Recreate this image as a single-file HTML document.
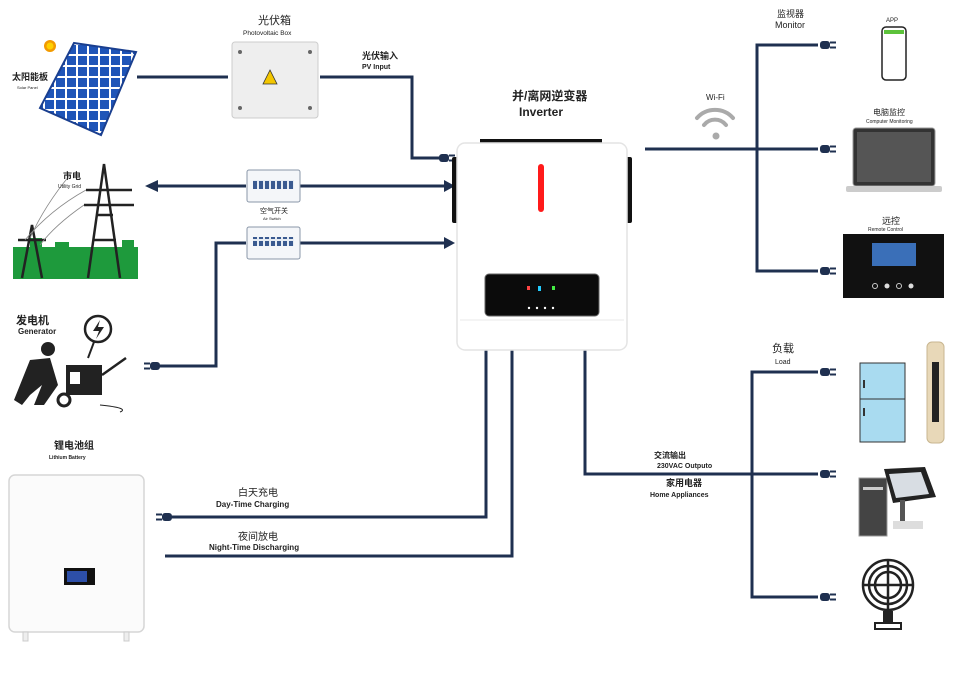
<!DOCTYPE html>
<html><head><meta charset="utf-8"><style>
html,body{margin:0;padding:0;background:#fff;}
svg{display:block;}
text{font-family:"Liberation Sans","Noto Sans CJK SC",sans-serif;fill:#222;}
</style></head><body>
<svg width="960" height="683" viewBox="0 0 960 683" xmlns="http://www.w3.org/2000/svg">
<defs>
<g id="plugR"><rect x="-10" y="-4" width="10" height="8" rx="3" fill="#1f3050"/><rect x="0" y="-3.5" width="6" height="2" fill="#1f3050"/><rect x="0" y="1.5" width="6" height="2" fill="#1f3050"/></g>
<pattern id="cells" width="11" height="11" patternUnits="userSpaceOnUse"><rect width="11" height="11" fill="#fff"/><rect x="1" y="1" width="9" height="9" fill="#1f55b8"/></pattern>
<pattern id="brk" width="6" height="10" patternUnits="userSpaceOnUse"><rect width="6" height="10" fill="#e6ecf3"/><rect x="1" y="1" width="4" height="8" fill="#3a5a90"/></pattern>
</defs>

<!-- connector lines -->
<g stroke="#1f3050" stroke-width="3" fill="none">
<line x1="137" y1="77" x2="228" y2="77"/>
<polyline points="320,77 412,77 412,158 440,158"/>
<line x1="155" y1="186" x2="246" y2="186"/>
<line x1="300" y1="186" x2="445" y2="186"/>
<polyline points="300,243 445,243"/>
<polyline points="246,243 216,243 216,366 160,366"/>
<polyline points="486,350 486,517 172,517"/>
<polyline points="512,350 512,556 165,556"/>
<polyline points="585,350 585,474 818,474"/>
<polyline points="818,372 752,372 752,597 818,597"/>
<line x1="645" y1="149" x2="818" y2="149"/>
<polyline points="818,45 757,45 757,271 818,271"/>
</g>
<polygon points="145,186 158,180 158,192" fill="#1f3050"/>
<polygon points="455,186 444,180 444,192" fill="#1f3050"/>
<polygon points="455,243 444,237 444,249" fill="#1f3050"/>
<use href="#plugR" x="449" y="158"/>
<g transform="translate(150,366) scale(-1,1)"><use href="#plugR"/></g>
<g transform="translate(162,517) scale(-1,1)"><use href="#plugR"/></g>
<use href="#plugR" x="830" y="45"/><use href="#plugR" x="830" y="149"/><use href="#plugR" x="830" y="271"/>
<use href="#plugR" x="830" y="372"/><use href="#plugR" x="830" y="474"/><use href="#plugR" x="830" y="597"/>

<!-- solar panel -->
<circle cx="50" cy="46" r="6" fill="#f29a00"/><circle cx="50" cy="46" r="3.5" fill="#ffd000"/>
<polygon points="74,43 136,52 101,135 40,108" fill="url(#cells)" stroke="#1a3f8f" stroke-width="2"/>
<text x="12" y="80" font-size="9" font-weight="bold">太阳能板</text>
<text x="17" y="89" font-size="4">Solar Panel</text>

<!-- PV box -->
<text x="258" y="24" font-size="11">光伏箱</text>
<text x="243" y="35" font-size="6.5" fill="#444">Photovoltaic Box</text>
<rect x="232" y="42" width="86" height="76" rx="3" fill="#eeeeee" stroke="#ccc"/>
<polygon points="270,70 263,84 277,84" fill="#f3c600" stroke="#333" stroke-width="0.8"/>
<circle cx="240" cy="52" r="2" fill="#666"/><circle cx="310" cy="52" r="2" fill="#666"/><circle cx="240" cy="108" r="2" fill="#666"/><circle cx="310" cy="108" r="2" fill="#666"/>
<text x="362" y="59" font-size="9" font-weight="bold">光伏输入</text>
<text x="362" y="69" font-size="7" font-weight="bold">PV Input</text>

<!-- utility grid -->
<rect x="13" y="247" width="125" height="32" fill="#1e9a3c"/>
<rect x="30" y="238" width="12" height="12" fill="#1e9a3c"/><rect x="55" y="242" width="14" height="8" fill="#1e9a3c"/><rect x="122" y="240" width="12" height="10" fill="#1e9a3c"/>
<g stroke="#222" stroke-width="2.5" fill="none">
<polyline points="88,278 104,164 120,278"/><line x1="93" y1="240" x2="116" y2="240"/><line x1="96" y1="215" x2="113" y2="215"/>
<line x1="86" y1="190" x2="132" y2="190"/><line x1="84" y1="205" x2="134" y2="205"/>
<polyline points="22,278 32,225 42,278"/><line x1="18" y1="240" x2="46" y2="240"/>
</g>
<g stroke="#888" stroke-width="0.8" fill="none"><path d="M86,190 Q50,210 25,240"/><path d="M84,205 Q55,225 40,245"/><path d="M70,175 Q45,205 30,238"/></g>
<text x="63" y="179" font-size="9" font-weight="bold">市电</text>
<text x="58" y="188" font-size="5" fill="#666">Utility Grid</text>

<!-- air switches -->
<rect x="247" y="170" width="53" height="32" rx="2" fill="#f4f6f9" stroke="#8a97a8"/>
<rect x="253" y="180" width="41" height="9" fill="url(#brk)"/>
<rect x="247" y="227" width="53" height="32" rx="2" fill="#f4f6f9" stroke="#8a97a8"/>
<rect x="253" y="237" width="41" height="9" fill="url(#brk)"/>
<text x="260" y="213" font-size="7">空气开关</text>
<text x="263" y="220" font-size="4" fill="#555">Air Switch</text>

<!-- generator -->
<text x="16" y="324" font-size="11" font-weight="bold">发电机</text>
<text x="18" y="334" font-size="8" font-weight="bold">Generator</text>
<circle cx="98" cy="329" r="13" fill="#fff" stroke="#222" stroke-width="2.5"/>
<polygon points="100,320 93,331 99,331 96,339 104,327 98,327" fill="#222"/>
<line x1="94" y1="342" x2="88" y2="358" stroke="#222" stroke-width="2"/>
<circle cx="48" cy="349" r="7" fill="#222"/>
<path d="M30,360 L50,358 L58,385 L44,405 L34,405 L42,385 L30,395 L22,405 L14,400 Z" fill="#222"/>
<rect x="66" y="365" width="36" height="30" fill="#222"/><rect x="70" y="372" width="10" height="12" fill="#fff"/>
<circle cx="64" cy="400" r="6" fill="#fff" stroke="#222" stroke-width="3"/>
<line x1="102" y1="375" x2="126" y2="358" stroke="#222" stroke-width="2.5"/>
<path d="M100,405 Q130,408 120,412" stroke="#222" fill="none"/>

<!-- battery -->
<text x="54" y="449" font-size="10" font-weight="bold">锂电池组</text>
<text x="49" y="459" font-size="5" font-weight="bold" fill="#333">Lithium Battery</text>
<rect x="9" y="475" width="135" height="157" rx="6" fill="#fbfbfb" stroke="#d6d6d6" stroke-width="1.5"/>
<rect x="64" y="568" width="31" height="17" fill="#111"/><rect x="67" y="571" width="20" height="11" fill="#2d4fa8"/>
<rect x="23" y="632" width="5" height="9" fill="#eee" stroke="#ccc"/><rect x="124" y="632" width="5" height="9" fill="#eee" stroke="#ccc"/>
<text x="238" y="496" font-size="10">白天充电</text>
<text x="216" y="507" font-size="8" font-weight="bold">Day-Time Charging</text>
<text x="238" y="540" font-size="10">夜间放电</text>
<text x="209" y="550" font-size="8" font-weight="bold">Night-Time Discharging</text>

<!-- inverter -->
<text x="512" y="100" font-size="12" font-weight="bold">并/离网逆变器</text>
<text x="519" y="116" font-size="12" font-weight="bold" fill="#333">Inverter</text>
<rect x="480" y="139" width="122" height="7" fill="#111"/>
<rect x="452" y="157" width="8" height="66" rx="2" fill="#111"/>
<rect x="624" y="157" width="8" height="66" rx="2" fill="#111"/>
<rect x="457" y="143" width="170" height="207" rx="8" fill="#fff" stroke="#e4e4e4" stroke-width="1.5"/>
<rect x="538" y="164" width="6" height="48" rx="3" fill="#ff1a1a"/>
<rect x="485" y="274" width="114" height="42" rx="4" fill="#0b0b0b" stroke="#666"/>
<rect x="538" y="286" width="3" height="5" fill="#2cf"/><rect x="527" y="286" width="3" height="4" fill="#f44"/><rect x="552" y="286" width="3" height="4" fill="#4e4"/>
<circle cx="529" cy="308" r="1.2" fill="#fff"/><circle cx="537" cy="308" r="1.2" fill="#fff"/><circle cx="545" cy="308" r="1.2" fill="#fff"/><circle cx="553" cy="308" r="1.2" fill="#fff"/>
<line x1="460" y1="320" x2="624" y2="320" stroke="#e8e8e8"/>

<!-- WiFi -->
<text x="706" y="100" font-size="8" fill="#bbb">Wi-Fi</text>
<g stroke="#aaa" stroke-width="4" fill="none" stroke-linecap="round">
<path d="M697,118 A24,24 0 0 1 733,118"/><path d="M704,125 A14,14 0 0 1 726,125"/></g>
<circle cx="716" cy="136" r="3.5" fill="#aaa"/>

<!-- monitor section -->
<text x="777" y="17" font-size="9">监视器</text>
<text x="775" y="28" font-size="9">Monitor</text>
<text x="886" y="22" font-size="6">APP</text>
<rect x="882" y="27" width="24" height="53" rx="4" fill="#fff" stroke="#222" stroke-width="1.5"/>
<rect x="884" y="30" width="20" height="4" fill="#5cc23a"/>
<text x="873" y="115" font-size="8">电脑监控</text>
<text x="866" y="123" font-size="5">Computer Monitoring</text>
<rect x="853" y="128" width="82" height="58" rx="3" fill="#333" stroke="#999"/>
<rect x="857" y="132" width="74" height="50" fill="#555"/>
<rect x="846" y="186" width="96" height="6" rx="2" fill="#ccc"/>
<text x="882" y="224" font-size="9">远控</text>
<text x="868" y="231" font-size="5">Remote Control</text>
<rect x="843" y="234" width="101" height="64" fill="#111"/>
<rect x="872" y="243" width="44" height="23" fill="#3a6fb8"/>
<circle cx="875" cy="286" r="2.5" fill="none" stroke="#ccc"/><circle cx="887" cy="286" r="2.5" fill="#ddd"/><circle cx="899" cy="286" r="2.5" fill="none" stroke="#ccc"/><circle cx="911" cy="286" r="2.5" fill="#ddd"/>

<!-- load -->
<text x="772" y="352" font-size="11">负载</text>
<text x="775" y="364" font-size="7">Load</text>
<rect x="860" y="363" width="45" height="79" fill="#a9dbf0" stroke="#333" stroke-width="1"/>
<line x1="860" y1="399" x2="905" y2="399" stroke="#333"/>
<rect x="863" y="380" width="2" height="8" fill="#333"/><rect x="863" y="408" width="2" height="8" fill="#333"/>
<rect x="927" y="342" width="17" height="101" rx="5" fill="#e8d8b8" stroke="#c8b690"/>
<rect x="932" y="362" width="7" height="60" fill="#222"/>
<text x="654" y="458" font-size="8" font-weight="bold">交流输出</text>
<text x="657" y="468" font-size="7" font-weight="bold">230VAC Outputo</text>
<text x="666" y="486" font-size="9" font-weight="bold">家用电器</text>
<text x="650" y="497" font-size="7" font-weight="bold">Home Appliances</text>
<rect x="859" y="478" width="28" height="58" fill="#444" stroke="#999"/>
<rect x="863" y="487" width="20" height="3" fill="#ccc"/>
<polygon points="884,469 925,467 936,497 893,503" fill="#222"/>
<polygon points="889,474 921,472 929,494 896,498" fill="#d8dde3"/>
<rect x="900" y="500" width="5" height="22" fill="#555"/>
<rect x="893" y="521" width="30" height="8" fill="#ddd"/>
<g stroke="#222" stroke-width="2.5" fill="none">
<circle cx="888" cy="585" r="25"/><circle cx="888" cy="585" r="13"/><circle cx="888" cy="585" r="19"/>
<line x1="888" y1="560" x2="888" y2="610"/><line x1="863" y1="585" x2="913" y2="585"/></g>
<rect x="883" y="611" width="10" height="12" fill="#222"/>
<rect x="875" y="623" width="26" height="6" fill="#fff" stroke="#222" stroke-width="2"/>
</svg>
</body></html>
